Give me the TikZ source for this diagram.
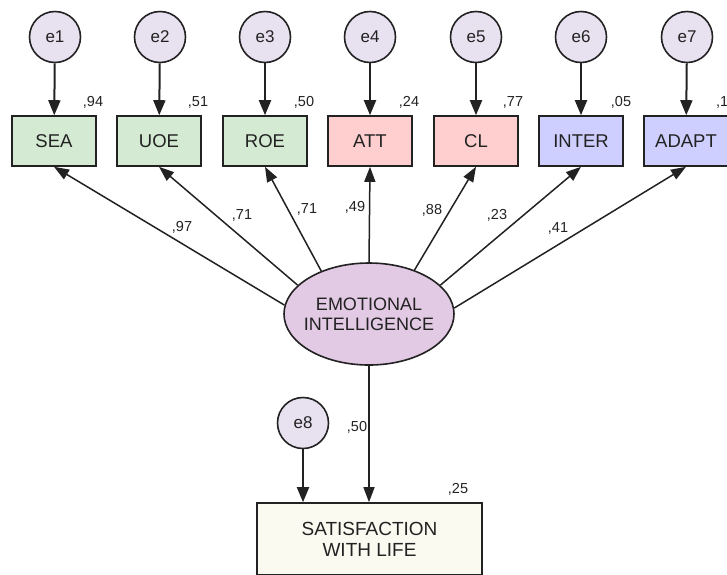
\documentclass[tikz,border=0pt]{standalone}
\usepackage{fontspec}
\setmainfont{Liberation Sans}
\usepackage{xcolor}
\usetikzlibrary{arrows.meta,shapes.geometric}

\definecolor{errfill}{RGB}{232,225,240}
\definecolor{grnfill}{RGB}{212,234,210}
\definecolor{redfill}{RGB}{255,206,206}
\definecolor{blufill}{RGB}{206,206,255}
\definecolor{latfill}{RGB}{226,201,228}
\definecolor{swlfill}{RGB}{250,250,240}
\definecolor{ink}{RGB}{34,34,34}

\begin{document}
\begin{tikzpicture}[x=1pt, y=-1pt, text=ink,
    errnode/.style={circle, draw=ink, line width=1.6pt, fill=errfill,
        minimum size=51pt, inner sep=0pt, font=\fontsize{17}{17}\selectfont},
    obsbox/.style={rectangle, draw=ink, line width=1.6pt, minimum width=84pt,
        minimum height=50pt, inner sep=0pt, font=\fontsize{18.5}{19}\selectfont},
    latnode/.style={ellipse, draw=ink, line width=1.6pt, fill=latfill,
        minimum width=170pt, minimum height=102pt, inner xsep=-5pt, inner ysep=0pt,
        align=center, font=\fontsize{18}{20}\selectfont},
    coef/.style={inner sep=0pt, font=\fontsize{14.5}{15}\selectfont},
    errpath/.style={-{Triangle[length=15pt,width=12pt]}, line width=2pt, draw=ink},
    regpath/.style={-{Triangle[length=15pt,width=11pt]}, line width=1.5pt, draw=ink}]
    \useasboundingbox (0,0) rectangle (727,574);
    % error terms
    \node[errnode] (e1) at (55,37) {e1};
    \node[errnode] (e2) at (160,37) {e2};
    \node[errnode] (e3) at (265,37) {e3};
    \node[errnode] (e4) at (370,37) {e4};
    \node[errnode] (e5) at (476,37) {e5};
    \node[errnode] (e6) at (581,37) {e6};
    \node[errnode] (e7) at (687,37) {e7};
    % observed indicators
    \node[obsbox, fill=grnfill] (sea) at (54,141) {SEA};
    \node[obsbox, fill=grnfill] (uoe) at (159,141) {UOE};
    \node[obsbox, fill=grnfill] (roe) at (265,141) {ROE};
    \node[obsbox, fill=redfill] (att) at (370,141) {ATT};
    \node[obsbox, fill=redfill] (cl) at (476,141) {CL};
    \node[obsbox, fill=blufill] (inter) at (581,141) {INTER};
    \node[obsbox, fill=blufill] (adapt) at (686,141) {ADAPT};
    % squared multiple correlations
    \node[coef] (r1) at (93,102) {,94};
    \node[coef] (r2) at (198,102) {,51};
    \node[coef] (r3) at (304,102) {,50};
    \node[coef] (r4) at (409,102) {,24};
    \node[coef] (r5) at (513,102) {,77};
    \node[coef] (r6) at (621,102) {,05};
    \node[coef, anchor=west] (r7) at (716,102) {,1};
    % latent factor
    \node[latnode] (emo) at (369,314) {EMOTIONAL\\INTELLIGENCE};
    % outcome
    \node[rectangle, draw=ink, line width=1.6pt, fill=swlfill, minimum width=225pt,
        minimum height=72pt, inner sep=0pt, align=center,
        font=\fontsize{19}{21}\selectfont] (swl) at (369.5,539) {SATISFACTION\\WITH LIFE};
    \node[errnode] (e8) at (303,423) {e8};
    \node[coef] (r8) at (458,489) {,25};
    % error arrows
    \draw[errpath] (e1) -- (sea);
    \draw[errpath] (e2) -- (uoe);
    \draw[errpath] (e3) -- (roe);
    \draw[errpath] (e4) -- (att);
    \draw[errpath] (e5) -- (cl);
    \draw[errpath] (e6) -- (inter);
    \draw[errpath] (e7) -- (adapt);
    \draw[errpath] (e8) -- (e8 |- swl.north);
    % loadings
    \draw[regpath] (emo.174) -- (sea.south);
    \draw[regpath] (emo.158) -- (uoe.south);
    \draw[regpath] (emo.138) -- (roe.south);
    \draw[regpath] (emo.north) -- (att.south);
    \draw[regpath] (emo.44) -- (cl.south);
    \draw[regpath] (emo.22) -- (inter.south);
    \draw[regpath] (emo.4) -- (adapt.south);
    \draw[regpath] (emo.south) -- (emo |- swl.north);
    \node[coef] (l1) at (182,227) {,97};
    \node[coef] (l2) at (242,215) {,71};
    \node[coef] (l3) at (307,209) {,71};
    \node[coef] (l4) at (355,207) {,49};
    \node[coef] (l5) at (432,210) {,88};
    \node[coef] (l6) at (497,215) {,23};
    \node[coef] (l7) at (558,228) {,41};
    \node[coef] (l8) at (357,427) {,50};
\end{tikzpicture}
\end{document}
